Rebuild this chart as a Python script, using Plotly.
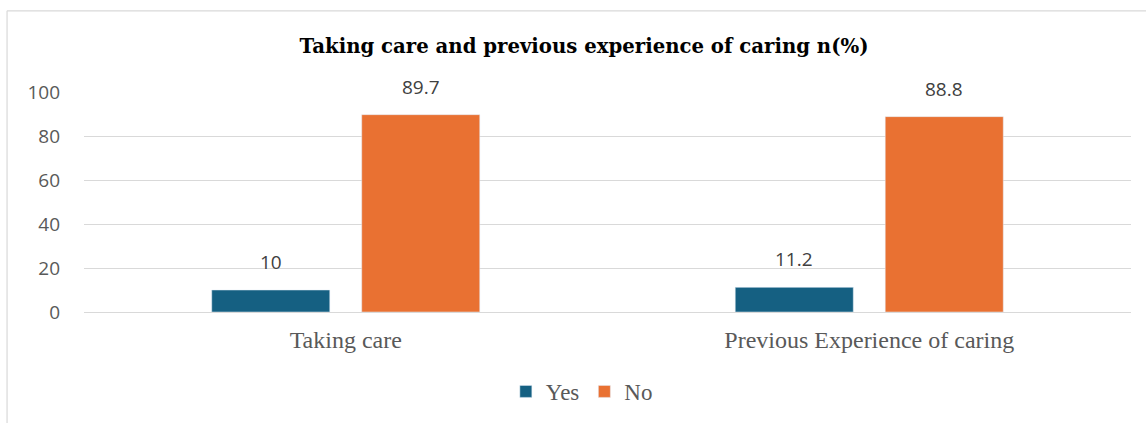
import plotly.graph_objects as go

categories = ["Taking care", "Previous Experience of caring"]
yes_values = [10, 11.2]
no_values = [89.7, 88.8]
series_names = ["Yes", "No"]
title_text = "Taking care and previous experience of caring n(%)"
y_ticks = [0, 20, 40, 60, 80, 100]

YES_COLOR = "#156082"
NO_COLOR = "#E97132"
GRID = "#D9D9D9"
TXT = "#595959"

bargap = 0.427

fig = go.Figure()
fig.add_trace(go.Bar(name=series_names[0], x=categories, y=yes_values, marker_color=YES_COLOR))
fig.add_trace(go.Bar(name=series_names[1], x=categories, y=no_values, marker_color=NO_COLOR))

off = (1 - bargap) / 4
for i in range(len(categories)):
    for val, sgn in ((yes_values[i], -1), (no_values[i], 1)):
        fig.add_annotation(x=i + sgn * off, y=val, xref="x", yref="y", text=str(val),
                           showarrow=False, yanchor="bottom", yshift=13,
                           font=dict(family="Open Sans, sans-serif", size=19, color="#404040"))

# chart border
fig.add_shape(type="line", xref="paper", yref="paper", x0=-0.0735, x1=-0.0735, y0=1.369, y1=-0.6,
              line=dict(color=GRID, width=1.2))
fig.add_shape(type="line", xref="paper", yref="paper", x0=-0.0735, x1=1.1, y0=1.369, y1=1.369,
              line=dict(color=GRID, width=1.2))

fig.update_layout(
    width=1146, height=423,
    margin=dict(l=84, r=15, t=92, b=110),
    paper_bgcolor="white", plot_bgcolor="white",
    barmode="group", bargap=bargap, bargroupgap=0.213,
    title=dict(text="<b>" + title_text + "</b>", x=0.5096, xanchor="center",
               y=1 - 46 / 423, yanchor="middle",
               font=dict(family="DejaVu Serif, serif", size=19.7, color="black")),
    legend=dict(orientation="h", x=0.4755, xanchor="center", y=-0.355, yanchor="middle",
                font=dict(family="Liberation Serif, serif", size=23, color=TXT),
                itemwidth=30, traceorder="normal"),
    showlegend=True,
)
fig.update_yaxes(range=[0, 100], tickvals=y_ticks, showgrid=True, gridcolor=GRID, gridwidth=1,
                 zeroline=False, showline=False, ticks="", ticklabelstandoff=23,
                 tickfont=dict(family="Open Sans, sans-serif", size=19, color=TXT))
fig.update_xaxes(showline=True, linecolor=GRID, linewidth=1, ticks="", ticklabelstandoff=6,
                 tickfont=dict(family="Liberation Serif, serif", size=24, color=TXT))

fig.write_html("out.html", post_script="document.body.style.margin='0';",
               config={"displayModeBar": False})
